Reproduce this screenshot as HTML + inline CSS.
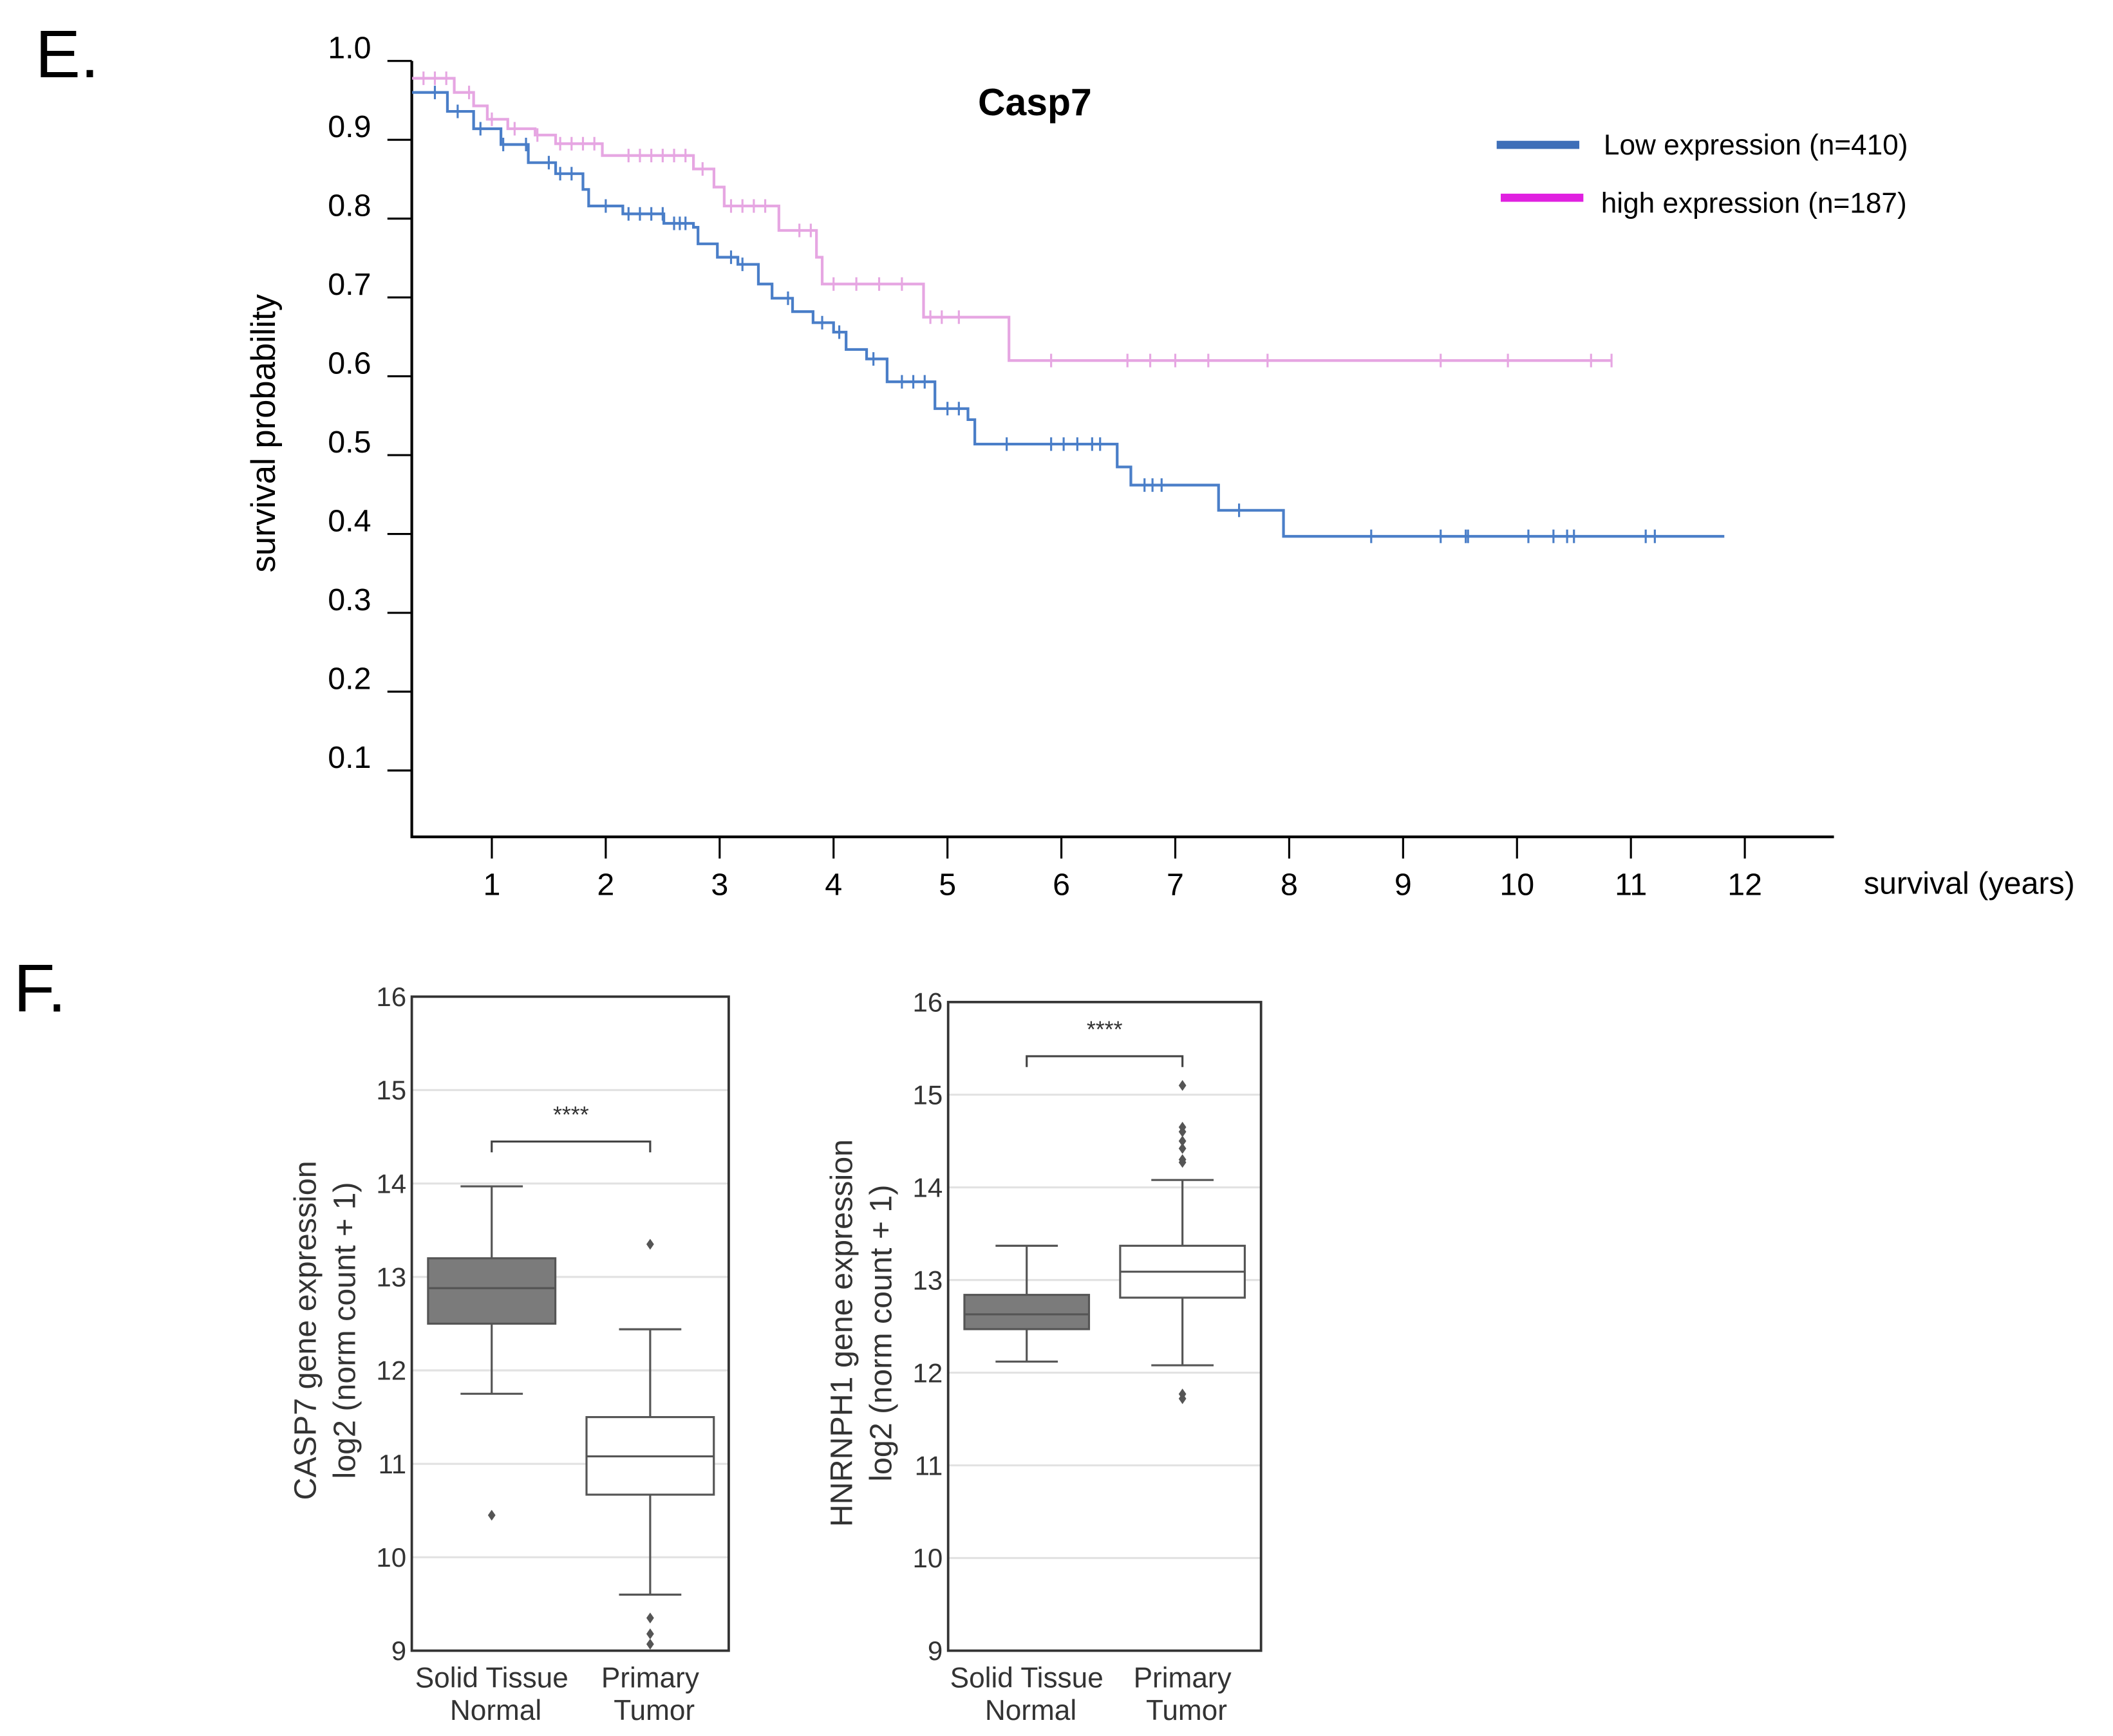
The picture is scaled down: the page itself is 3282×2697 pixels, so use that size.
<!DOCTYPE html>
<html><head><meta charset="utf-8"><style>
html,body{margin:0;padding:0;background:#fff;}
svg{display:block;font-family:"Liberation Sans",sans-serif;}
</style></head><body>
<svg id="fig" width="3282" height="2697" viewBox="0 0 1560 1282" xmlns="http://www.w3.org/2000/svg">
<rect width="1560" height="1282" fill="#fff"/>
<text x="26" y="57" font-size="50">E.</text>
<text x="10" y="747" font-size="50">F.</text>
<g id="km"></g>
<g id="box1"></g>
<g id="box2"></g>
</svg>
<script>
// ---- KM data ----
const kmXTicks = [1,2,3,4,5,6,7,8,9,10,11,12];
const kmYTicks = [1.0,0.9,0.8,0.7,0.6,0.5,0.4,0.3,0.2,0.1];
const lowTimes = [0.30,0.61,0.84,1.08,1.32,1.56,1.80,1.85,2.15,2.51,2.77,2.81,2.98,3.16,3.34,3.46,3.64,3.82,4.00,4.11,4.29,4.47,4.89,5.18,5.24,6.49,6.61,7.38,7.95];
const lowSurv  = [0.960,0.936,0.914,0.894,0.871,0.857,0.837,0.816,0.806,0.794,0.789,0.768,0.751,0.742,0.717,0.699,0.682,0.668,0.656,0.634,0.622,0.593,0.559,0.545,0.514,0.485,0.462,0.430,0.397];
const lowEnd = 11.82;
const lowCensor = [0.5,0.7,0.9,1.1,1.3,1.5,1.6,1.7,2.0,2.2,2.3,2.4,2.5,2.6,2.65,2.7,3.1,3.2,3.6,3.9,4.05,4.35,4.6,4.7,4.8,5.0,5.1,5.52,5.91,6.02,6.14,6.27,6.34,6.73,6.80,6.88,7.56,8.72,9.33,9.55,9.57,10.10,10.32,10.44,10.50,11.13,11.21];
const highTimes = [0.30,0.67,0.84,0.96,1.14,1.38,1.56,1.97,2.77,2.95,3.04,3.52,3.85,3.90,4.79,5.54];
const highSurv  = [0.978,0.960,0.943,0.926,0.914,0.906,0.895,0.880,0.863,0.840,0.816,0.785,0.751,0.717,0.675,0.620];
const highEnd = 10.83;
const highCensor = [0.4,0.5,0.6,0.8,1.0,1.2,1.4,1.6,1.7,1.8,1.9,2.2,2.3,2.4,2.5,2.6,2.7,2.85,3.1,3.2,3.3,3.4,3.7,3.8,4.0,4.2,4.4,4.6,4.85,4.95,5.1,5.91,6.58,6.78,7.00,7.29,7.81,9.33,9.92,10.65,10.83];

// ---- Boxplot data ----
const casp7Cats = ["Normal","Tumor"];
const casp7Stats = [[11.75,12.5,12.88,13.2,13.97],[9.6,10.67,11.08,11.5,12.44]];
const casp7Out = [[10.45],[13.35,9.35,9.18,9.07]];
const hnrCats = ["Normal","Tumor"];
const hnrStats = [[12.12,12.47,12.63,12.84,13.37],[12.08,12.81,13.09,13.37,14.08]];
const hnrOut = [[],[15.1,14.65,14.6,14.5,14.42,14.3,14.27,11.77,11.72]];
const boxYTicks = [9,10,11,12,13,14,15,16];

const NS="http://www.w3.org/2000/svg";
function mk(parent,tag,attrs,text){const e=document.createElementNS(NS,tag);for(const k in attrs)e.setAttribute(k,attrs[k]);if(text!==undefined)e.textContent=text;parent.appendChild(e);return e;}

// ---- KM chart ----
const km=document.getElementById('km');
const kx=t=>279+84.1*t, ky=v=>45+(1-v)*582.2;
let e;
e=mk(km,'line',{x1:304,y1:45,x2:304,y2:618,stroke:'#000','stroke-width':2});


e=mk(km,'line',{x1:303,y1:618,x2:1354,y2:618,stroke:'#000','stroke-width':2});


kmYTicks.forEach(v=>{
  const y=ky(v);
  e=mk(km,'line',{x1:286,y1:y,x2:304,y2:y,stroke:'#000','stroke-width':1.5});
  
  
  e=mk(km,'text',{x:274,y:y-2,'font-size':23,'text-anchor':'end'},v.toFixed(1));
  
  
});
kmXTicks.forEach(t=>{
  const x=kx(t);
  e=mk(km,'line',{x1:x,y1:618,x2:x,y2:634,stroke:'#000','stroke-width':1.5});
  
  
  e=mk(km,'text',{x:x,y:661,'font-size':23,'text-anchor':'middle'},t);
  
  
});
e=mk(km,'text',{x:1376,y:660,'font-size':23},'survival (years)');


e=mk(km,'text',{x:0,y:0,'font-size':25,'text-anchor':'middle',transform:'translate(203,320) rotate(-90)'},'survival probability');


e=mk(km,'text',{x:764,y:85,'font-size':28,'font-weight':'bold','text-anchor':'middle'},'Casp7');



function stepVal(times,surv,t){let v=surv[0];for(let i=0;i<times.length;i++){if(times[i]<=t)v=surv[i];}return v;}
function drawKM(times,surv,end,cens,color,name){
  let d='M'+kx(times[0])+','+ky(surv[0]);
  for(let i=1;i<times.length;i++){d+=' H'+kx(times[i])+' V'+ky(surv[i]);}
  d+=' H'+kx(end);
  e=mk(km,'path',{d:d,fill:'none',stroke:color,'stroke-width':2});
  
  
  cens.forEach(t=>{
    const x=kx(t),y=ky(stepVal(times,surv,t));
    e=mk(km,'line',{x1:x,y1:y-5,x2:x,y2:y+5,stroke:color,'stroke-width':1.5});
    
    
  });
}
drawKM(highTimes,highSurv,highEnd,highCensor,'#e6a6e2','high-expression');
drawKM(lowTimes,lowSurv,lowEnd,lowCensor,'#4a7ec8','low-expression');

e=mk(km,'line',{x1:1105,y1:107,x2:1166,y2:107,stroke:'#3e6fb8','stroke-width':6});


e=mk(km,'text',{x:1184,y:114,'font-size':21},'Low expression (n=410)');


e=mk(km,'line',{x1:1108,y1:146,x2:1169,y2:146,stroke:'#e020e0','stroke-width':6});


e=mk(km,'text',{x:1182,y:157,'font-size':21},'high expression (n=187)');



// ---- Boxplots ----
function drawBox(g,cfg,stats,outs){
  const {x0,x1,yTop,yBot,centers,half,ylab1,ylab2,labX,brY,starY}=cfg;
  const by=v=>yBot-(v-9)*(yBot-yTop)/7;
  boxYTicks.forEach(v=>{
    if(v>9&&v<16){
      e=mk(g,'line',{x1:x0,y1:by(v),x2:x1,y2:by(v),stroke:'#e2e2e2','stroke-width':1.5});
      
      
    }
    e=mk(g,'text',{x:x0-4,y:by(v)+7,'font-size':20,'text-anchor':'end',fill:'#333'},v);
    
    
  });
  e=mk(g,'rect',{x:x0,y:yTop,width:x1-x0,height:yBot-yTop,fill:'none',stroke:'#333','stroke-width':1.8});
  
  
  stats.forEach((s,i)=>{
    const c=centers[i], fill=i===0?'#7b7b7b':'#fff';
    e=mk(g,'line',{x1:c,y1:by(s[0]),x2:c,y2:by(s[1]),stroke:'#555','stroke-width':1.5});
    
    
    e=mk(g,'line',{x1:c,y1:by(s[3]),x2:c,y2:by(s[4]),stroke:'#555','stroke-width':1.5});
    
    
    [s[0],s[4]].forEach(v=>{
      e=mk(g,'line',{x1:c-23,y1:by(v),x2:c+23,y2:by(v),stroke:'#555','stroke-width':1.5});
      
      
    });
    e=mk(g,'rect',{x:c-half,y:by(s[3]),width:2*half,height:by(s[1])-by(s[3]),fill:fill,stroke:'#555','stroke-width':1.5});
    
    
    e=mk(g,'line',{x1:c-half,y1:by(s[2]),x2:c+half,y2:by(s[2]),stroke:'#555','stroke-width':1.5});
    
    
    outs[i].forEach(v=>{
      e=mk(g,'path',{d:`M${c},${by(v)-4} L${c+2.8},${by(v)} L${c},${by(v)+4} L${c-2.8},${by(v)} Z`,fill:'#555'});
      
      
    });
  });
  e=mk(g,'path',{d:`M${centers[0]},${brY+8} V${brY} H${centers[1]} V${brY+8}`,fill:'none',stroke:'#444','stroke-width':1.5});
  
  
  e=mk(g,'text',{x:(centers[0]+centers[1])/2,y:starY,'font-size':17,'text-anchor':'middle',fill:'#333'},'****');
  
  
  [["Solid Tissue","Normal"],["Primary","Tumor"]].forEach((l,i)=>{
    e=mk(g,'text',{x:centers[i],y:yBot+27,'font-size':21,'text-anchor':'middle',fill:'#333'},l[0]);
    
    
    e=mk(g,'text',{x:centers[i]+3,y:yBot+51,'font-size':21,'text-anchor':'middle',fill:'#333'},l[1]);
    
    
  });
  const cy=(yTop+yBot)/2+5;
  e=mk(g,'text',{x:0,y:0,'font-size':23,'text-anchor':'middle',fill:'#333',transform:`translate(${labX},${cy}) rotate(-90)`},ylab1);
  
  
  e=mk(g,'text',{x:0,y:0,'font-size':23,'text-anchor':'middle',fill:'#333',transform:`translate(${labX+29},${cy}) rotate(-90)`},ylab2);
  
  
}
drawBox(document.getElementById('box1'),{x0:304,x1:538,yTop:736,yBot:1219,centers:[363,480],half:47,ylab1:'CASP7 gene expression',ylab2:'log2 (norm count + 1)',labX:233,brY:843,starY:829},casp7Stats,casp7Out);
drawBox(document.getElementById('box2'),{x0:700,x1:931,yTop:740,yBot:1219,centers:[758,873],half:46,ylab1:'HNRNPH1 gene expression',ylab2:'log2 (norm count + 1)',labX:629,brY:780,starY:766},hnrStats,hnrOut);
</script>
</body></html>
